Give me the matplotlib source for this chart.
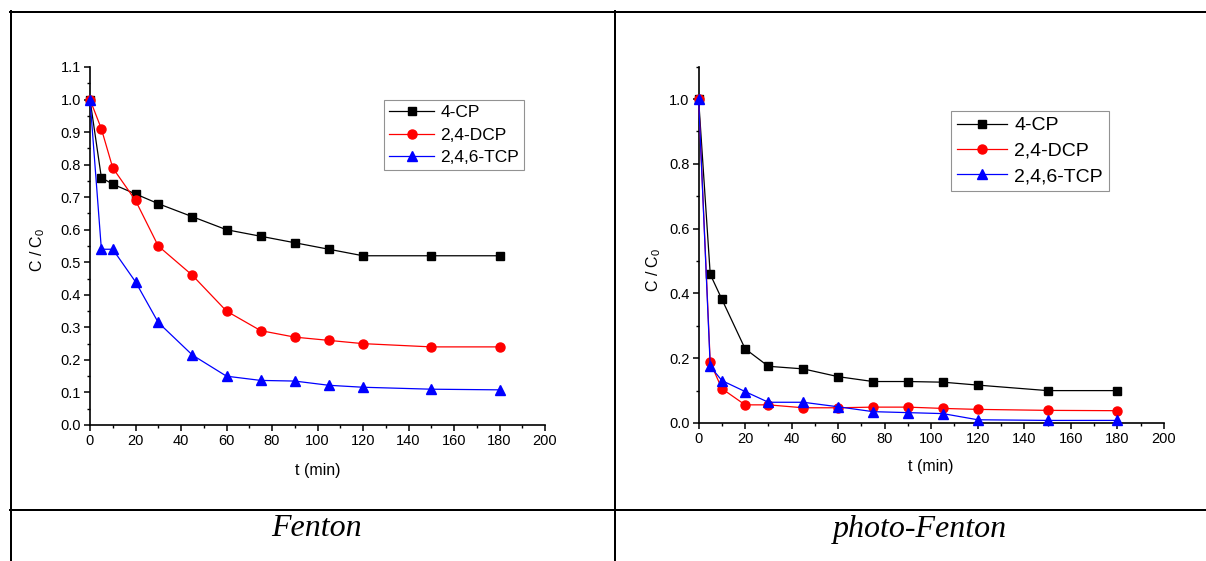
import matplotlib
matplotlib.use("Agg")
import matplotlib.pyplot as plt
from matplotlib.lines import Line2D
from matplotlib.ticker import MultipleLocator, FormatStrFormatter

plt.rcParams['font.family'] = ['Liberation Sans', 'DejaVu Sans']
plt.rcParams['mathtext.fontset'] = 'custom'
plt.rcParams['mathtext.rm'] = 'Liberation Sans'
plt.rcParams['mathtext.it'] = 'Liberation Sans:italic'

# ---- data ----
t_min = [0, 5, 10, 20, 30, 45, 60, 75, 90, 105, 120, 150, 180]
series_names = ['4-CP', '2,4-DCP', '2,4,6-TCP']
captions = ['Fenton', 'photo-Fenton']

fenton_cp = [1.0, 0.76, 0.74, 0.71, 0.68, 0.64, 0.60, 0.58, 0.56, 0.54, 0.52, 0.52, 0.52]
fenton_dcp = [1.0, 0.91, 0.79, 0.69, 0.55, 0.46, 0.35, 0.29, 0.27, 0.26, 0.25, 0.24, 0.24]
fenton_tcp = [1.0, 0.54, 0.54, 0.44, 0.315, 0.215, 0.15, 0.137, 0.135, 0.122, 0.116, 0.11, 0.108]

photo_cp = [1.0, 0.459, 0.382, 0.229, 0.175, 0.167, 0.143, 0.128, 0.128, 0.126, 0.117, 0.100, 0.100]
photo_dcp = [1.0, 0.187, 0.106, 0.056, 0.056, 0.047, 0.047, 0.049, 0.049, 0.045, 0.042, 0.039, 0.038]
photo_tcp = [1.0, 0.175, 0.131, 0.097, 0.064, 0.064, 0.050, 0.035, 0.032, 0.029, 0.010, 0.008, 0.008]

W, H = 1206, 561
fig = plt.figure(figsize=(W / 100, H / 100), dpi=100)

def fx(px):
    return px / W

def fy(py):
    return 1 - py / H

# ---- table lines ----
lw_tab = 2.0 * 72 / 100
for (x0, y0, x1, y1) in [(10, 11.5, W, 11.5), (10.5, 11, 10.5, H), (614.5, 11, 614.5, H), (10, 509.5, W, 509.5)]:
    fig.add_artist(Line2D([fx(x0), fx(x1)], [fy(y0), fy(y1)], color='black', lw=lw_tab,
                          transform=fig.transFigure))

styles = [dict(color='black', marker='s', ms=5.5),
          dict(color='red', marker='o', ms=6.5),
          dict(color='blue', marker='^', ms=6.8)]

def make_axes(rect, data, photo, leg_xy, leg_fs, leg_sp, ylab_xy, xlab_xy):
    ax = fig.add_axes(rect)
    for vals, name, st in zip(data, series_names, styles):
        ax.plot(t_min, vals, color=st['color'], marker=st['marker'], ms=st['ms'],
                lw=0.9, label=name, clip_on=False, zorder=3)
    ax.set_xlim(0, 200)
    ax.set_ylim(0, 1.1)
    ax.xaxis.set_major_locator(MultipleLocator(20))
    ax.xaxis.set_minor_locator(MultipleLocator(10))
    if photo:
        ax.set_yticks([0, 0.2, 0.4, 0.6, 0.8, 1.0])
        ax.yaxis.set_minor_locator(MultipleLocator(0.1))
    else:
        ax.yaxis.set_major_locator(MultipleLocator(0.1))
        ax.yaxis.set_minor_locator(MultipleLocator(0.05))
    ax.yaxis.set_major_formatter(FormatStrFormatter('%.1f'))
    ax.spines['top'].set_visible(False)
    ax.spines['right'].set_visible(False)
    for s in ('left', 'bottom'):
        ax.spines[s].set_linewidth(1.2)
    ax.tick_params(which='major', direction='out', length=4.5, width=1.1, labelsize=10.5, pad=2)
    ax.tick_params(which='minor', direction='out', length=2.5, width=1.0)
    fig.text(fx(ylab_xy[0]), fy(ylab_xy[1]), r'C / C$_\mathregular{0}$', rotation=90,
             fontsize=11.5, ha='center', va='center')
    fig.text(fx(xlab_xy[0]), fy(xlab_xy[1]), 't (min)', fontsize=11.5, ha='center', va='center')
    leg = ax.legend(loc='upper left', bbox_to_anchor=(fx(leg_xy[0]), fy(leg_xy[1])),
                    bbox_transform=fig.transFigure, borderaxespad=0, fontsize=leg_fs,
                    fancybox=False, frameon=True, handlelength=2.6, handletextpad=0.35,
                    borderpad=0.3, labelspacing=leg_sp)
    leg.get_frame().set_edgecolor('#777777')
    leg.get_frame().set_linewidth(0.8)
    return ax

make_axes([fx(90), fy(425), (545 - 90) / W, (425 - 67) / H],
          [fenton_cp, fenton_dcp, fenton_tcp], False, (384, 100), 12.5, 0.42,
          (38, 250), (318, 470))
make_axes([fx(698.6), fy(423), (1163.8 - 698.6) / W, (423 - 66.6) / H],
          [photo_cp, photo_dcp, photo_tcp], True, (951, 111), 14, 0.4,
          (654, 270), (931, 467))

fig.text(fx(316), fy(529), captions[0], family='Liberation Serif', style='italic',
         fontsize=23, ha='center', va='center')
fig.text(fx(920), fy(529), captions[1], family='Liberation Serif', style='italic',
         fontsize=23, ha='center', va='center')

fig.savefig('out.png', dpi=100)
